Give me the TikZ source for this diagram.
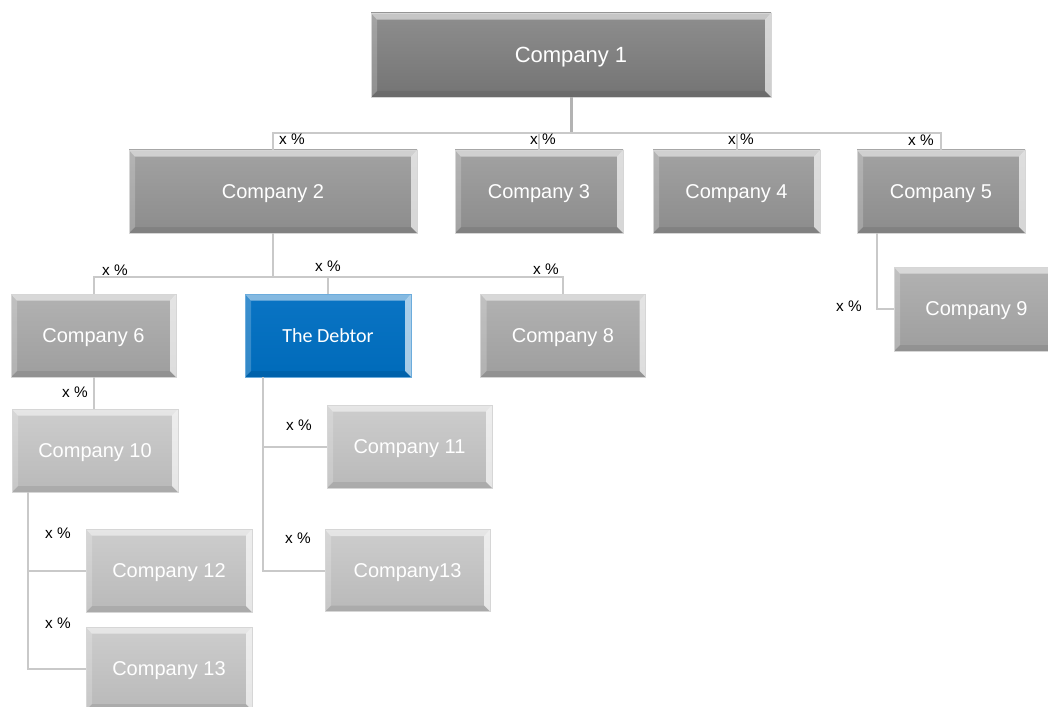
\documentclass[tikz,border=0pt]{standalone}
\usepackage{fontspec}
\setmainfont{Liberation Sans}
\newfontfamily\calib{Carlito}
\definecolor{ctA}{HTML}{8E8E8E}
\definecolor{cbA}{HTML}{747474}
\definecolor{ctB}{HTML}{A2A2A2}
\definecolor{cbB}{HTML}{8C8C8C}
\definecolor{ctC}{HTML}{B2B2B2}
\definecolor{cbC}{HTML}{9E9E9E}
\definecolor{ctD}{HTML}{CDCDCD}
\definecolor{cbD}{HTML}{B9B9B9}
\definecolor{ctE}{HTML}{0A74C4}
\definecolor{cbE}{HTML}{006BBA}
\definecolor{edge}{HTML}{D6D6D6}
\definecolor{conn}{HTML}{C9C9C9}
\definecolor{stem}{HTML}{B3B3B3}
\tikzset{
  bev/.style={path picture={
    \fill[white,opacity=0.5] (path picture bounding box.north west) -- (path picture bounding box.north east)
      -- ([shift={(-4.5pt,-5pt)}]path picture bounding box.north east) -- ([shift={(4.5pt,-5pt)}]path picture bounding box.north west) -- cycle;
    \fill[white,opacity=0.2] (path picture bounding box.north west) -- ([shift={(4.5pt,-5pt)}]path picture bounding box.north west)
      -- ([shift={(4.5pt,4.5pt)}]path picture bounding box.south west) -- (path picture bounding box.south west) -- cycle;
    \fill[white,opacity=0.65] (path picture bounding box.north east) -- ([shift={(-4.5pt,-5pt)}]path picture bounding box.north east)
      -- ([shift={(-4.5pt,4.5pt)}]path picture bounding box.south east) -- (path picture bounding box.south east) -- cycle;
    \fill[black,opacity=0.08] (path picture bounding box.south west) -- ([shift={(4.5pt,4.5pt)}]path picture bounding box.south west)
      -- ([shift={(-4.5pt,4.5pt)}]path picture bounding box.south east) -- (path picture bounding box.south east) -- cycle;
  }},
  cbox/.style={rectangle, inner sep=0pt, text=white, draw=edge, line width=0.6pt, text depth=0pt,
    font=\fontsize{15}{18}\selectfont, minimum height=62.25pt, bev},
  lvA/.style={cbox, top color=ctA, bottom color=cbA},
  lvB/.style={cbox, top color=ctB, bottom color=cbB},
  lvC/.style={cbox, top color=ctC, bottom color=cbC},
  lvD/.style={cbox, top color=ctD, bottom color=cbD},
  lvE/.style={cbox, top color=ctE, bottom color=cbE, draw=ctE!60!white, font=\calib\fontsize{15}{18}\selectfont},
  pct/.style={inner sep=0pt, text=black, font=\fontsize{11.5}{13}\selectfont},
  link/.style={draw=conn, line width=1.5pt},
}
\begin{document}
\begin{tikzpicture}[x=0.75pt,y=-0.75pt]
\useasboundingbox (0,0) rectangle (1048,706);
\clip (0,0) rectangle (1048,706);
% boxes
\node[lvA, minimum width=300pt, minimum height=63pt, font=\fontsize{16.5}{19}\selectfont] (c1) at (571,55) {Company 1};
\node[lvB, minimum width=216pt] (c2) at (273,191.5) {Company 2};
\node[lvB, minimum width=126pt] (c3) at (539,191.5) {Company 3};
\node[lvB, minimum width=125.25pt] (c4) at (736.5,191.5) {Company 4};
\node[lvB, minimum width=126pt] (c5) at (941,191.5) {Company 5};
\node[lvC, minimum width=123.75pt] (c6) at (93.5,335.5) {Company 6};
\node[lvE, minimum width=124.5pt] (deb) at (328,335.5) {The Debtor};
\node[lvC, minimum width=123.75pt] (c8) at (563,335.5) {Company 8};
\node[lvC, minimum width=123.75pt, minimum height=63pt] (c9) at (976.5,309) {Company 9};
\node[lvD, minimum width=124.5pt] (c10) at (95,450.5) {Company 10};
\node[lvD, minimum width=123.75pt] (c11) at (409.5,446.5) {Company 11};
\node[lvD, minimum width=123.75pt, minimum height=61.5pt] (c13b) at (407.5,570.5) {Company13};
\node[lvD, minimum width=124.5pt] (c12) at (169,570.5) {Company 12};
\node[lvD, minimum width=124.5pt] (c13) at (169,668.5) {Company 13};
% buses
\coordinate (busA) at (0,133);
\coordinate (busB) at (0,277);
% connectors level 1
\draw[draw=stem, line width=2.25pt] (c1.south) -- (c1.south |- busA);
\draw[link] (c2.north) -- (c2.north |- busA) -- (c5.north |- busA) -- (c5.north);
\draw[link] (c3.north) -- (c3.north |- busA);
\draw[link] (c4.north) -- (c4.north |- busA);
% connectors level 2
\draw[link] (c2.south) -- (c2.south |- busB);
\draw[link] (c6.north) -- (c6.north |- busB) -- (c8.north |- busB) -- (c8.north);
\draw[link] (deb.north) -- (deb.north |- busB);
% company 5 -> 9
\draw[link] ([xshift=15pt]c5.south west) |- (c9.west);
% company 6 -> 10
\draw[link] (c6.south) -- (c6.south |- c10.north);
% company 10 -> 12, 13
\draw[link] ([xshift=12pt]c10.south west) |- (c12.west);
\draw[link] ([xshift=12pt]c10.south west) |- (c13.west);
% debtor -> 11, 13
\draw[link] ([xshift=13.5pt]deb.south west) |- (c11.west);
\draw[link] ([xshift=13.5pt]deb.south west) |- (c13b.west);
% labels
\node[pct] (p2) at (292,139) {x \%};
\node[pct] (p3) at (543,139) {x \%};
\node[pct] (p4) at (741,139) {x \%};
\node[pct] (p5) at (921,140) {x \%};
\node[pct] (p6) at (115,270) {x \%};
\node[pct] (pd) at (328,266) {x \%};
\node[pct] (p8) at (546,269) {x \%};
\node[pct] (p9) at (849,306) {x \%};
\node[pct] (p10) at (75,392) {x \%};
\node[pct] (p11) at (299,425) {x \%};
\node[pct] (p13b) at (298,538) {x \%};
\node[pct] (p12) at (58,533) {x \%};
\node[pct] (p13) at (58,623) {x \%};
\end{tikzpicture}
\end{document}
